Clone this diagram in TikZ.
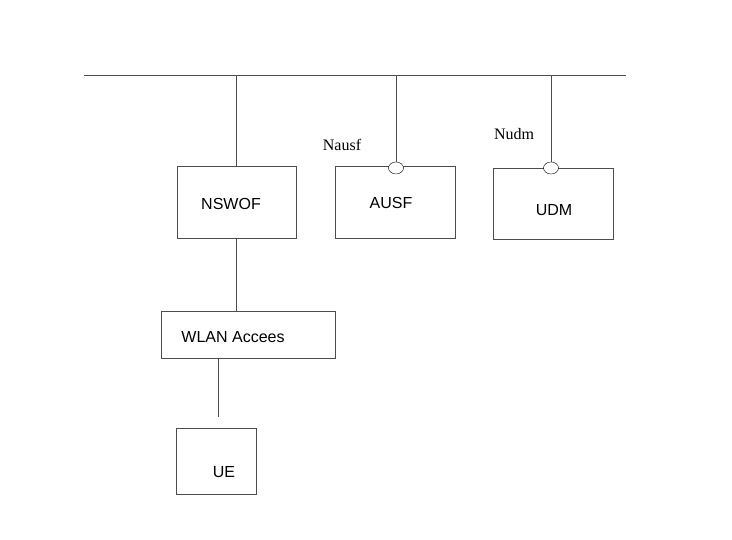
\documentclass[tikz,border=0pt]{standalone}
\usepackage{fontspec}
\setmainfont{Liberation Sans}
\usetikzlibrary{positioning}
\usetikzlibrary{shapes.geometric}
\begin{document}
\begin{tikzpicture}[x=1pt,y=-1pt, every node/.style={font=\fontsize{16}{18}\selectfont},
  box/.style={draw=black!70, line width=0.5pt, minimum width=#1, inner sep=0pt},
  port/.style={draw, ellipse, minimum width=15pt, minimum height=12pt, inner sep=0pt, fill=white},
  lbl/.style={font=\fontsize{16}{18}\selectfont\fontspec{Liberation Serif}}]
  \useasboundingbox (0,0) rectangle (732,540);

  % Bus
  \coordinate (busl) at (84,75);
  \coordinate (busr) at (626,75);
  \draw[black!70] (busl) -- (busr);

  % Nodes
  \node[box=119pt, minimum height=72pt] at (236.5,202) (nswof) {};
  \node at (231,204) {NSWOF};
  \node[box=120pt, minimum height=72pt] at (395,202) (ausf) {};
  \node at (391,203) {AUSF};
  \node[box=120pt, minimum height=71pt] at (553,203.5) (udm) {};
  \node at (554,210) {UDM};
  \node[box=174pt, minimum height=47pt] at (248,334.5) (wlan) {};
  \node at (233,337) {WLAN Accees};
  \node[box=80pt, minimum height=66pt] at (216,461) (ue) {};
  \node at (224,472) {UE};

  \node[port] at (396,168) (nausf) {};
  \node[port] at (551,168) (nudm) {};
  \node[lbl] at (342,145) {Nausf};
  \node[lbl] at (514,134) {Nudm};

  \coordinate (b1) at (236,75);
  \coordinate (b2) at (396,75);
  \coordinate (b3) at (551,75);
  \coordinate (w1) at (218,358);
  \coordinate (u1) at (218,417);

  % Connectors
  \draw[black!70] (b1) -- (nswof.north -| b1);
  \draw[black!70] (b2) -- (nausf);
  \draw[black!70] (b3) -- (nudm);
  \draw[black!70] (nswof.south -| b1) -- (wlan.north -| b1);
  \draw[black!70] (w1) -- (u1);
\end{tikzpicture}
\end{document}
